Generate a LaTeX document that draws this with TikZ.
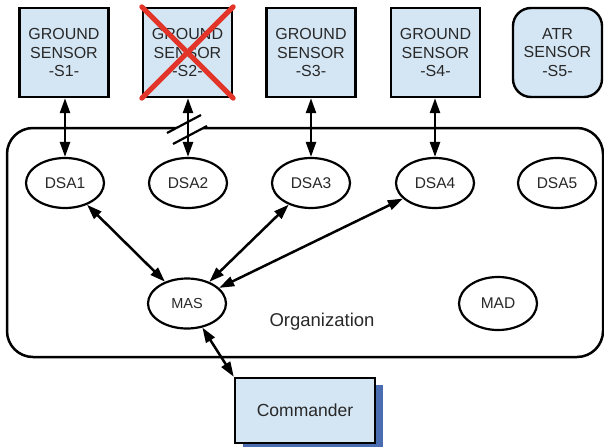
\documentclass[tikz,border=0pt]{standalone}
\usepackage{fontspec}
\setmainfont{Liberation Sans}
\usetikzlibrary{arrows.meta,shapes.geometric}
\definecolor{boxfill}{RGB}{212,230,244}
\definecolor{shadowblue}{RGB}{74,108,176}
\definecolor{inkgray}{RGB}{40,40,40}
\definecolor{crossred}{RGB}{226,52,40}
\tikzset{
  sensorbox/.style={draw=black, line width=2.4pt, fill=boxfill, minimum width=89pt,
    minimum height=89pt, inner sep=0pt, align=center, text=inkgray,
    font=\fontsize{16}{18.5}\selectfont},
  atrbox/.style={sensorbox, rounded corners=18pt},
  agent/.style={draw=black, line width=2.2pt, ellipse, fill=white, minimum width=78pt,
    minimum height=50pt, inner sep=0pt, text=inkgray, font=\fontsize{15.5}{18}\selectfont},
  link/.style={line width=2.5pt, {Triangle[length=15pt,width=10pt]}-{Triangle[length=15pt,width=10pt]}},
  cmdbox/.style={draw=black, line width=2.4pt, fill=boxfill, minimum width=140pt,
    minimum height=65pt, inner sep=0pt, text=inkgray, font=\fontsize{17.5}{20}\selectfont},
}
\begin{document}
\begin{tikzpicture}[x=1pt,y=-1pt]
\useasboundingbox (0,0) rectangle (604,447);

% organization boundary
\draw[line width=2.5pt, rounded corners=26pt] (7,128) rectangle (603,357);
% broken boundary below sensor S2
\fill[white] (167,133) -- (201,115) -- (207,126) -- (173,144) -- cycle;
\draw[line width=2.2pt] (167,133) -- (201,115);
\draw[line width=2.2pt] (173,144) -- (207,126);

% sensors
\node[sensorbox] (s1) at (64,52.5) {GROUND\\SENSOR\\-S1-};
\node[sensorbox] (s2) at (187.5,52.5) {GROUND\\SENSOR\\-S2-};
\node[sensorbox] (s3) at (311,52.5) {GROUND\\SENSOR\\-S3-};
\node[sensorbox] (s4) at (435.5,52.5) {GROUND\\SENSOR\\-S4-};
\node[atrbox] (s5) at (557.5,52.5) {ATR\\SENSOR\\-S5-};

% failed sensor
\draw[crossred, line width=5pt, line cap=round] (s2.north west) -- (s2.south east);
\draw[crossred, line width=5pt, line cap=round] (s2.north east) -- (s2.south west);

% agents
\node[agent] (dsa1) at (65,183) {DSA1};
\node[agent] (dsa2) at (188,183) {DSA2};
\node[agent] (dsa3) at (311,183) {DSA3};
\node[agent] (dsa4) at (435,183) {DSA4};
\node[agent] (dsa5) at (557,183) {DSA5};
\node[agent, font=\fontsize{14.5}{17}\selectfont] (mas) at (187,303.5) {MAS};
\node[agent, minimum height=53pt] (mad) at (498,303.5) {MAD};

\node[text=inkgray, font=\fontsize{18.5}{21}\selectfont] (org) at (322,322) {Organization};

% commander with drop shadow
\fill[shadowblue] (243,385) rectangle (383,447);
\node[cmdbox] (cmd) at (305,410.5) {Commander};

% links
\draw[link] (s1.south -| dsa1) -- (dsa1.north);
\draw[link] (s2.south -| dsa2) -- (dsa2.north);
\draw[link] (s3.south -| dsa3) -- (dsa3.north);
\draw[link] (s4.south -| dsa4) -- (dsa4.north);
\draw[link] (dsa1) -- (mas);
\draw[link] (dsa3) -- (mas);
\draw[link] (dsa4) -- (mas);
\draw[link] (mas) -- (cmd.north west);
\end{tikzpicture}
\end{document}
